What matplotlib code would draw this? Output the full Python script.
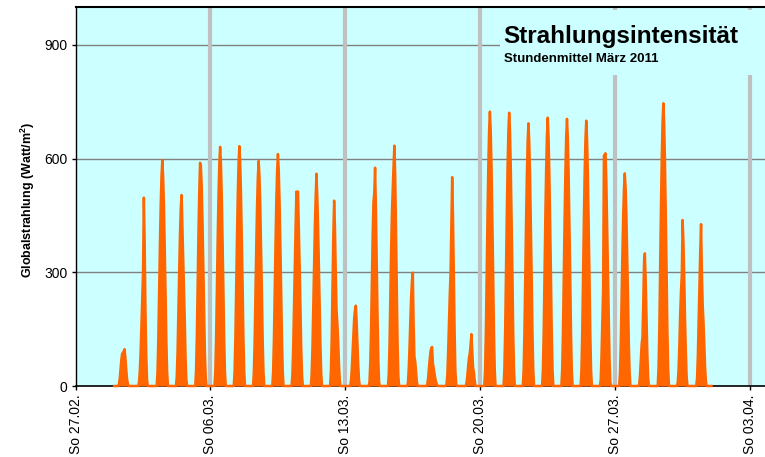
import numpy as np
import pandas as pd
from matplotlib import pyplot as plt
from matplotlib.patches import Rectangle

plt.rcParams['font.family'] = ['Liberation Sans', 'DejaVu Sans']

# Stundenmittel 06:00 .. 18:00 Uhr, Rest des Tages 0 W/m2
stunden = list(range(6, 19))

maerz_01 = [5, 20, 45, 70, 85, 88, 92, 97, 75, 45, 20, 6, 0]
maerz_02 = [0, 10, 40, 90, 160, 235, 300, 497, 380, 200, 80, 15, 0]
maerz_03 = [36, 120, 250, 370, 477, 554, 596, 554, 477, 370, 250, 120, 36]
maerz_04 = [25, 90, 200, 300, 400, 470, 504, 420, 325, 260, 170, 70, 15]
maerz_05 = [40, 130, 270, 400, 510, 589, 582, 530, 440, 330, 210, 90, 25]
maerz_06 = [38, 126, 265, 391, 505, 587, 631, 587, 505, 391, 265, 126, 38]
maerz_07 = [38, 127, 266, 392, 506, 589, 633, 589, 506, 392, 266, 127, 38]
maerz_08 = [36, 119, 249, 368, 475, 552, 594, 552, 475, 368, 249, 119, 36]
maerz_09 = [37, 122, 257, 379, 490, 569, 612, 569, 490, 379, 257, 122, 37]
maerz_10 = [30, 100, 210, 320, 420, 513, 500, 513, 420, 320, 210, 100, 30]
maerz_11 = [30, 100, 210, 320, 420, 500, 560, 500, 420, 320, 210, 100, 30]
maerz_12 = [40, 130, 270, 400, 489, 420, 300, 200, 166, 120, 60, 15, 0]
maerz_13 = [0, 15, 45, 90, 140, 180, 200, 212, 170, 110, 55, 15, 0]
maerz_14 = [10, 60, 150, 280, 400, 486, 509, 576, 470, 330, 190, 70, 10]
maerz_15 = [30, 110, 240, 360, 460, 522, 580, 634, 560, 420, 260, 110, 25]
maerz_16 = [10, 50, 110, 180, 240, 280, 299, 160, 77, 65, 40, 12, 0]
maerz_17 = [5, 20, 45, 70, 90, 100, 103, 60, 47, 35, 20, 10, 5]
maerz_18 = [5, 30, 90, 170, 240, 298, 420, 551, 450, 300, 150, 40, 5]
maerz_19 = [0, 10, 30, 55, 75, 87, 110, 137, 95, 50, 37, 15, 0]
maerz_20 = [43, 145, 304, 449, 579, 673, 724, 673, 579, 449, 304, 145, 43]
maerz_21 = [43, 144, 303, 447, 577, 671, 721, 671, 577, 447, 303, 144, 43]
maerz_22 = [42, 139, 291, 430, 554, 644, 693, 644, 554, 430, 291, 139, 42]
maerz_23 = [42, 142, 297, 439, 566, 658, 708, 658, 566, 439, 297, 142, 42]
maerz_24 = [42, 141, 296, 437, 564, 656, 705, 656, 564, 437, 296, 141, 42]
maerz_25 = [42, 140, 294, 434, 560, 651, 700, 651, 560, 434, 294, 140, 42]
maerz_26 = [15, 80, 170, 253, 608, 610, 614, 540, 420, 300, 180, 70, 10]
maerz_27 = [34, 112, 236, 348, 449, 522, 561, 522, 449, 348, 236, 112, 34]
maerz_28 = [5, 30, 70, 110, 129, 220, 328, 350, 280, 180, 90, 25, 0]
maerz_29 = [45, 149, 313, 463, 597, 694, 746, 694, 597, 463, 313, 149, 45]
maerz_30 = [10, 45, 110, 190, 250, 293, 438, 383, 290, 180, 90, 25, 0]
maerz_31 = [20, 80, 170, 270, 359, 427, 300, 214, 170, 110, 50, 12, 0]

tage = [maerz_01, maerz_02, maerz_03, maerz_04, maerz_05, maerz_06, maerz_07,
        maerz_08, maerz_09, maerz_10, maerz_11, maerz_12, maerz_13, maerz_14,
        maerz_15, maerz_16, maerz_17, maerz_18, maerz_19, maerz_20, maerz_21,
        maerz_22, maerz_23, maerz_24, maerz_25, maerz_26, maerz_27, maerz_28,
        maerz_29, maerz_30, maerz_31]

tick_labels = ["So 27.02.", "So 06.03.", "So 13.03.", "So 20.03.", "So 27.03.", "So 03.04."]
y_ticks = [0, 300, 600, 900]

# x in Tagen ab So 27.02. 00:00
start_maerz = 2
zeit, werte = [], []
for i, tag in enumerate(tage):
    profil = dict(zip(stunden, tag))
    for h in range(24):
        zeit.append(start_maerz + i + h / 24)
        werte.append(profil.get(h, 0))
zeit.append(start_maerz + len(tage))
werte.append(0)
zeit = np.array(zeit)
werte = np.array(werte)

fig = plt.figure(figsize=(7.65, 4.57), dpi=100)
ax = fig.add_axes([75.6 / 765, 71 / 457, 1 - 75.6 / 765, 379 / 457])
ax.set_facecolor("#ccffff")

tick_pos = np.arange(len(tick_labels)) * 7
for x in tick_pos[1:]:
    ax.axvline(x, color="#c0c0c0", lw=3, zorder=1.5)
for y in y_ticks[1:]:
    ax.axhline(y, color="#808080", lw=1, zorder=1)

ax.fill_between(zeit, werte, color="#ff6600", lw=0, zorder=3)
ax.plot(zeit, werte, color="#ff6600", lw=1.8, zorder=3.5, clip_on=False)

ax.set_xlim(0, (765 - 75.6) / 19.27)
ax.set_ylim(0, 1000)
ax.set_xticks(tick_pos)
ax.set_xticklabels(tick_labels, rotation=90, fontsize=10)
ax.set_yticks(y_ticks)
ax.set_yticklabels([str(v) for v in y_ticks], fontsize=10)
ax.tick_params(direction="out", length=3, width=1, pad=3)

ax.spines["right"].set_visible(False)
ax.spines["top"].set_linewidth(1.5)
ax.spines["left"].set_linewidth(1)
ax.spines["bottom"].set_linewidth(1.2)
ax.spines["bottom"].set_zorder(2.5)

# Titelbox
ax.add_patch(Rectangle((500 / 765, (457 - 75) / 457), 265 / 765, 65 / 457,
                       transform=fig.transFigure, facecolor="#ccffff",
                       edgecolor="none", zorder=2))
fig.text(503 / 765, (457 - 43) / 457, "Strahlungsintensität", fontsize=17.5,
         fontweight="bold", va="baseline", ha="left")
fig.text(504 / 765, (457 - 62.5) / 457, "Stundenmittel März 2011", fontsize=9.5,
         fontweight="bold", va="baseline", ha="left")

fig.text(28 / 765, (457 - 200) / 457, "Globalstrahlung (Watt/m$^\\mathregular{2}$)",
         rotation=90, fontsize=9, fontweight="bold", va="center", ha="center")

fig.savefig("out.png", dpi=100)
